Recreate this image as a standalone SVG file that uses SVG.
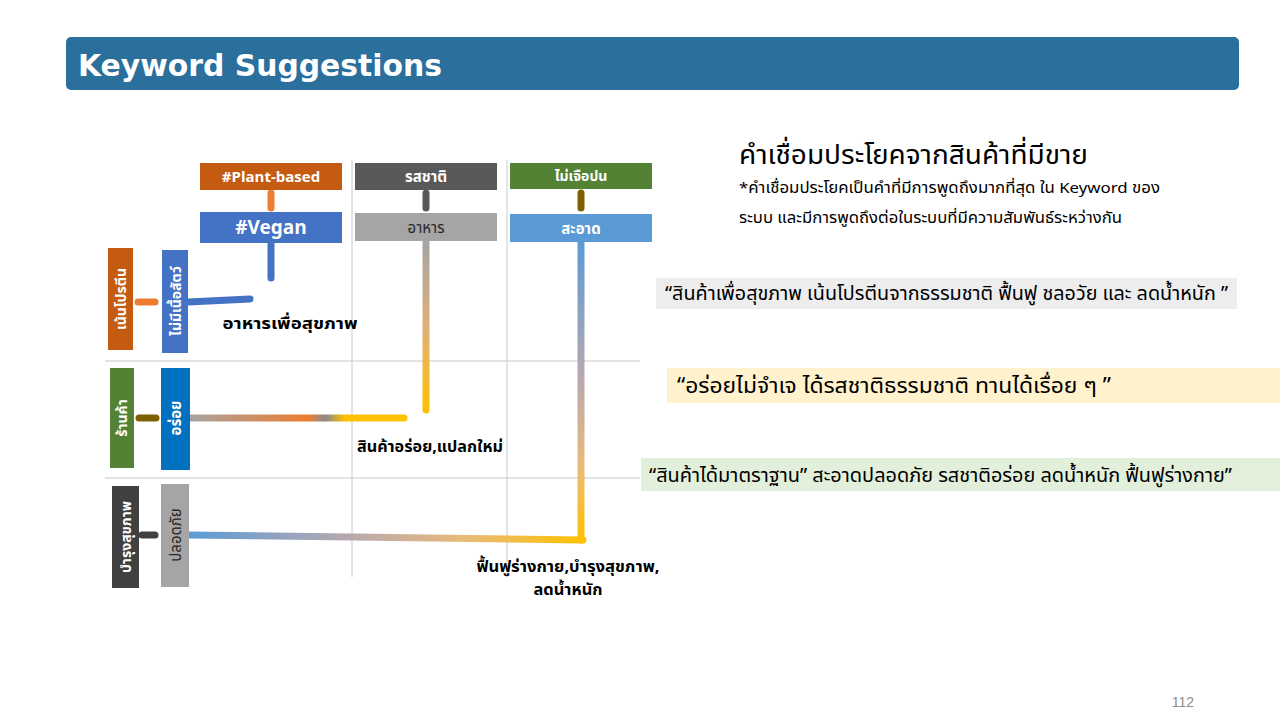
<svg xmlns="http://www.w3.org/2000/svg" width="1280" height="720" viewBox="0 0 1280 720">
<style>
.th{font-family:"Noto Sans Thai","Noto Sans","DejaVu Sans",sans-serif}
.bw{fill:#ffffff;font-weight:bold;font-size:15px;text-anchor:middle}
.lbl{fill:#000000;font-weight:bold;font-size:16px;text-anchor:middle}
.grid{stroke:#c8c8c8;stroke-width:1;fill:none}
.stub{stroke-width:7;stroke-linecap:round;fill:none}
.link{stroke-width:7;stroke-linecap:round;fill:none}
.q{font-size:19px;fill:#000}
</style>
<defs>
<linearGradient id="gRow2" gradientUnits="userSpaceOnUse" x1="190" y1="0" x2="405" y2="0">
<stop offset="0" stop-color="#a8a4a0"/>
<stop offset="0.55" stop-color="#ed7d31"/>
<stop offset="0.63" stop-color="#8a8a8a"/>
<stop offset="0.72" stop-color="#ffc000"/>
<stop offset="1" stop-color="#ffc000"/>
</linearGradient>
<linearGradient id="gFood" gradientUnits="userSpaceOnUse" x1="0" y1="241" x2="0" y2="412">
<stop offset="0" stop-color="#a5a5a5"/>
<stop offset="0.5" stop-color="#e0b07a"/>
<stop offset="1" stop-color="#ffc000"/>
</linearGradient>
<linearGradient id="gRow3" gradientUnits="userSpaceOnUse" x1="189" y1="0" x2="583" y2="0">
<stop offset="0" stop-color="#5b9bd5"/>
<stop offset="0.4" stop-color="#b7a8b0"/>
<stop offset="0.7" stop-color="#e9bb7a"/>
<stop offset="1" stop-color="#ffc000"/>
</linearGradient>
<linearGradient id="gClean" gradientUnits="userSpaceOnUse" x1="0" y1="242" x2="0" y2="540">
<stop offset="0" stop-color="#5b9bd5"/>
<stop offset="0.45" stop-color="#b7a8b0"/>
<stop offset="0.75" stop-color="#e9bb7a"/>
<stop offset="1" stop-color="#ffc000"/>
</linearGradient>
</defs>
<rect width="1280" height="720" fill="#ffffff"/>

<g id="header">
<rect x="66" y="37" width="1173" height="53" rx="5" fill="#2b6f9d"/>
<text x="78" y="76" font-family="Verdana,'DejaVu Sans',sans-serif" font-weight="bold" font-size="30" fill="#ffffff" textLength="364" lengthAdjust="spacingAndGlyphs">Keyword  Suggestions</text>
</g>

<g id="grid">
<line class="grid" x1="352" y1="160" x2="352" y2="577"/>
<line class="grid" x1="507" y1="160" x2="507" y2="577"/>
<line class="grid" x1="105" y1="361" x2="640" y2="361"/>
<line class="grid" x1="105" y1="478" x2="640" y2="478"/>
</g>

<g id="connectors">
<line class="stub" x1="271" y1="193" x2="271" y2="208" stroke="#ed7d31"/>
<line class="stub" x1="426" y1="193" x2="426" y2="208" stroke="#595959"/>
<line class="stub" x1="581" y1="193" x2="581" y2="208" stroke="#7f6000"/>
<line class="stub" x1="138" y1="302" x2="155" y2="302" stroke="#ed7d31"/>
<line class="stub" x1="139" y1="418" x2="156" y2="418" stroke="#7f6000"/>
<line class="stub" x1="142" y1="535" x2="155" y2="535" stroke="#404040"/>
<path class="link" d="M271,243 V278" stroke="#4472c4"/>
<path class="link" d="M188,302 L250,299" stroke="#4472c4"/>
<path class="link" d="M190,418 H404" stroke="url(#gRow2)"/>
<path class="link" d="M426,241 V410" stroke="url(#gFood)"/>
<path class="link" d="M189,535 L583,540" stroke="url(#gRow3)"/>
<path class="link" d="M581,242 V540" stroke="url(#gClean)"/>
</g>

<g id="node-plantbased">
<rect x="200" y="163" width="142" height="27" fill="#c55a11"/>
<text class="th bw" x="271" y="182">#Plant-based</text>
</g>
<g id="node-taste">
<rect x="355" y="163" width="142" height="27" fill="#595959"/>
<text class="th bw" x="426" y="182">รสชาติ</text>
</g>
<g id="node-pure">
<rect x="510" y="163" width="142" height="26" fill="#548235"/>
<text class="th bw" x="581" y="181" style="font-size:14px">ไม่เจือปน</text>
</g>
<g id="node-vegan">
<rect x="200" y="212" width="142" height="31" fill="#4472c4"/>
<text class="th bw" x="271" y="234" style="font-size:19px">#Vegan</text>
</g>
<g id="node-food">
<rect x="355" y="213" width="142" height="28" fill="#a5a5a5"/>
<text class="th" x="426" y="233" font-size="15" text-anchor="middle" fill="#262626">อาหาร</text>
</g>
<g id="node-clean">
<rect x="510" y="214" width="142" height="28" fill="#5b9bd5"/>
<text class="th bw" x="581" y="234">สะอาด</text>
</g>

<g id="node-protein">
<rect x="108" y="248" width="25" height="102" fill="#c55a11"/>
<text class="th bw" transform="translate(126,299) rotate(-90)" x="0" y="0" style="font-size:14px">เน้นโปรตีน</text>
</g>
<g id="node-nomeat">
<rect x="162" y="250" width="26" height="103" fill="#4472c4"/>
<text class="th bw" transform="translate(181,301) rotate(-90)" x="0" y="0" style="font-size:14px">ไม่มีเนื้อสัตว์</text>
</g>
<g id="node-shop">
<rect x="110" y="368" width="24" height="100" fill="#548235"/>
<text class="th bw" transform="translate(127,418) rotate(-90)" x="0" y="0" style="font-size:14px">ร้านค้า</text>
</g>
<g id="node-tasty">
<rect x="161" y="368" width="29" height="102" fill="#0070c0"/>
<text class="th bw" transform="translate(181,418) rotate(-90)" x="0" y="0" style="font-size:15px">อร่อย</text>
</g>
<g id="node-health">
<rect x="112" y="486" width="27" height="102" fill="#404040"/>
<text class="th bw" transform="translate(131,537) rotate(-90)" x="0" y="0" style="font-size:14px">บำรุงสุขภาพ</text>
</g>
<g id="node-safe">
<rect x="161" y="484" width="28" height="103" fill="#a5a5a5"/>
<text class="th" transform="translate(181,535) rotate(-90)" x="0" y="0" font-size="15" text-anchor="middle" fill="#262626">ปลอดภัย</text>
</g>

<g id="labels">
<text class="th lbl" x="290" y="329" textLength="135" lengthAdjust="spacingAndGlyphs">อาหารเพื่อสุขภาพ</text>
<text class="th lbl" x="430" y="452" textLength="146" lengthAdjust="spacingAndGlyphs">สินค้าอร่อย,แปลกใหม่</text>
<text class="th lbl" x="568" y="572" textLength="183" lengthAdjust="spacingAndGlyphs">ฟื้นฟูร่างกาย,บำรุงสุขภาพ,</text>
<text class="th lbl" x="568" y="595" style="font-size:15px" textLength="69" lengthAdjust="spacingAndGlyphs">ลดน้ำหนัก</text>
</g>

<g id="info">
<text class="th" x="739" y="164" font-size="27" fill="#000" textLength="349" lengthAdjust="spacingAndGlyphs">คำเชื่อมประโยคจากสินค้าที่มีขาย</text>
<text class="th" x="739" y="193" font-size="15" fill="#000" textLength="421" lengthAdjust="spacingAndGlyphs">*คำเชื่อมประโยคเป็นคำที่มีการพูดถึงมากที่สุด ใน Keyword ของ</text>
<text class="th" x="739" y="223" font-size="15" fill="#000" textLength="383" lengthAdjust="spacingAndGlyphs">ระบบ และมีการพูดถึงต่อในระบบที่มีความสัมพันธ์ระหว่างกัน</text>
</g>

<g id="quote-1">
<rect x="656" y="278" width="581" height="31" fill="#ededed"/>
<text class="th q" x="665" y="300" textLength="563" lengthAdjust="spacingAndGlyphs">“สินค้าเพื่อสุขภาพ เน้นโปรตีนจากธรรมชาติ ฟื้นฟู ชลอวัย และ ลดน้ำหนัก ”</text>
</g>
<g id="quote-2">
<rect x="667" y="368" width="613" height="35" fill="#fff2cc"/>
<text class="th q" x="677" y="393" style="font-size:21px" textLength="434" lengthAdjust="spacingAndGlyphs">“อร่อยไม่จำเจ ได้รสชาติธรรมชาติ ทานได้เรื่อย ๆ ”</text>
</g>
<g id="quote-3">
<rect x="641" y="458" width="639" height="33" fill="#e2efda"/>
<text class="th q" x="649" y="482" textLength="583" lengthAdjust="spacingAndGlyphs">“สินค้าได้มาตราฐาน” สะอาดปลอดภัย รสชาติอร่อย ลดน้ำหนัก ฟื้นฟูร่างกาย”</text>
</g>

<text x="1183" y="707" font-family="'Liberation Sans',sans-serif" font-size="14" fill="#8c8c8c" text-anchor="middle">112</text>
</svg>
